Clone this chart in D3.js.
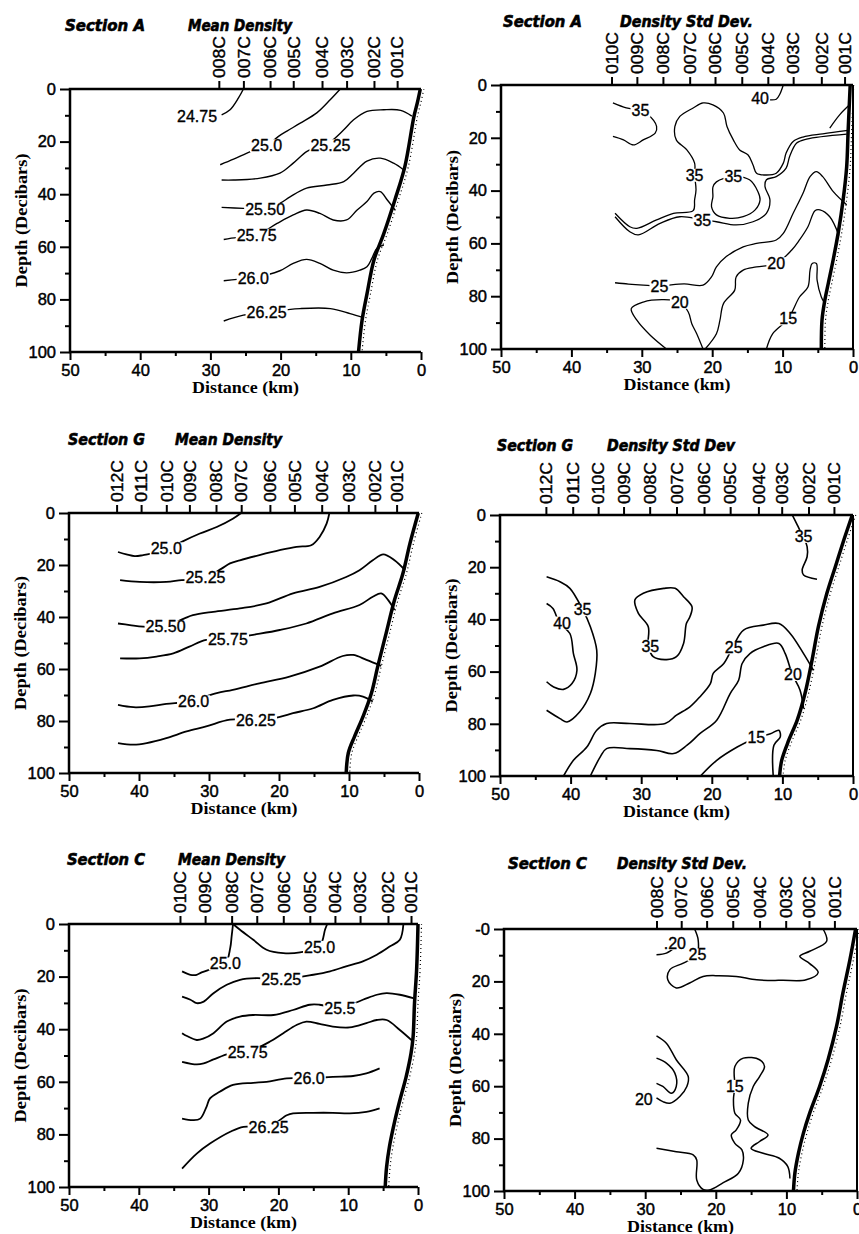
<!DOCTYPE html>
<html>
<head>
<meta charset="utf-8">
<script src="https://cdn.jsdelivr.net/npm/d3@7"></script>
<style>
  body { margin: 0; background: #fff; }
</style>
</head>
<body>
<svg id="fig" width="859" height="1234"></svg>
<script>
// ---- station names and positions (km offshore) ----
const stationsA1 = ["008C", "007C", "006C", "005C", "004C", "003C", "002C", "001C"];
const stationKmA1 = [28.8, 25.3, 21.5, 18.2, 14.1, 10.6, 6.7, 3.4];
const stationsA2 = ["010C", "009C", "008C", "007C", "006C", "005C", "004C", "003C", "002C", "001C"];
const stationKmA2 = [34.3, 30.7, 27.0, 23.2, 19.6, 15.8, 12.1, 8.5, 4.5, 1.2];
const stationsG = ["012C", "011C", "010C", "009C", "008C", "007C", "006C", "005C", "004C", "003C", "002C", "001C"];
const stationKmG1 = [43.2, 39.7, 36.1, 32.8, 29.0, 25.4, 21.3, 17.8, 13.9, 10.1, 6.3, 3.2];
const stationKmG2 = [43.5, 39.7, 36.1, 32.5, 28.8, 25.0, 21.1, 17.4, 13.4, 10.1, 6.3, 2.7];
const stationsC1 = ["010C", "009C", "008C", "007C", "006C", "005C", "004C", "003C", "002C", "001C"];
const stationKmC1 = [34.1, 30.5, 26.7, 23.1, 19.3, 15.5, 11.9, 8.3, 4.3, 1.0];
const stationsC2 = ["008C", "007C", "006C", "005C", "004C", "003C", "002C", "001C"];
const stationKmC2 = [28.4, 24.9, 21.3, 17.6, 13.8, 10.1, 6.8, 3.2];

// ---- axis ticks ----
const depthTicks = [0, 20, 40, 60, 80, 100];
const depthMinor = [10, 30, 50, 70, 90];
const depthLabels = ["0", "20", "40", "60", "80", "100"];
const depthLabelsC2 = ["-0", "20", "40", "60", "80", "100"];
const distTicks = [50, 40, 30, 20, 10, 0];
const distMinor = [45, 35, 25, 15, 5];

// ---- sea floor profiles [km, depth] ----
const bottomA1 = [[0.1, 0], [0.5, 5], [1.0, 10.4], [2.3, 29.5], [3.7, 42], [5.3, 55], [6.7, 65], [7.7, 78], [8.4, 88], [8.9, 100]];
const bottomA2 = [[0.4, 0], [0.7, 18], [0.9, 31], [1.4, 43.5], [2.1, 56], [2.8, 66], [3.5, 75], [4.0, 81.5], [4.4, 89], [4.5, 100]];
const bottomG1 = [[0.1, 0], [1.3, 11.8], [2.3, 23.3], [3.5, 33.5], [4.7, 46.3], [5.9, 59.1], [6.8, 69.3], [8, 78.3], [9.2, 85.9], [10.1, 92.3], [10.4, 100]];
const bottomG2 = [[0.1, 0], [1.3, 9.6], [2.5, 19.8], [3.7, 30], [4.9, 42.8], [5.8, 55.6], [6.8, 68.4], [7.9, 78.6], [9.1, 86.3], [10.1, 94], [10.4, 100]];
const bottomC1 = [[0, 0], [0.2, 17.4], [0.5, 30.1], [0.7, 42.8], [1, 49.2], [1.7, 58.1], [2.6, 67], [3.3, 74.6], [4.1, 84.8], [4.5, 92.4], [4.7, 100]];
const bottomC2 = [[0.2, 0], [1, 11.7], [2, 24.5], [2.9, 37.2], [4.1, 49.9], [5.3, 60.1], [6.7, 70.3], [7.6, 78], [8.3, 85.6], [8.8, 93.2], [9, 100]];

// ---- contours: label, label position and traced points [km, depth] ----
const contoursA1 = [
  {label: "24.75", at: [31.9, 10.4], pts: [[25.3, 0], [26.0, 3.4], [27.2, 7.9], [28.4, 9.8]]},
  {label: "25.0", at: [22.0, 21.5], pts: [[11.5, 0], [12.9, 4], [14.8, 9], [17.2, 13], [19.1, 16], [20.3, 18], [22, 21.5], [24.3, 23.8], [26.7, 26.7], [28.6, 28.8]]},
  {label: "25.25", at: [12.9, 21.5], pts: [[1.3, 10.3], [2.9, 8.1], [5.3, 7.9], [7.7, 8.5], [9.6, 11.7], [11.0, 15.5], [12.9, 20], [14.8, 22], [16.3, 23.8], [18.2, 28.2], [20.1, 32], [22.9, 33.9], [26.7, 34.6], [28.4, 34.6]]},
  {label: "25.50", at: [22.2, 45.7], pts: [[2.5, 30.7], [3.9, 28.2], [5.8, 26.3], [7.7, 27.4], [9.6, 32], [11.0, 35.2], [13.4, 36.5], [16.3, 37.7], [18.6, 40.9], [20.1, 43.5], [22.2, 45.7], [25.3, 45.4], [28.4, 45]]},
  {label: "25.75", at: [23.4, 55.5], pts: [[3.7, 46], [4.8, 42.2], [5.8, 39], [6.7, 39.6], [7.7, 42.8], [9.1, 46], [10.6, 49.8], [12.5, 49.8], [14.4, 47.3], [16.3, 46], [18.2, 47.9], [20.5, 51.1], [23.4, 55.5], [26.2, 56.4], [28.1, 57.2]]},
  {label: "26.0", at: [23.9, 71.8], pts: [[5.3, 59.3], [6.3, 60.6], [7.0, 64.4], [7.7, 67.6], [8.7, 68.9], [10.6, 69.9], [12.5, 68.9], [14.4, 66.3], [16.3, 64.8], [18.2, 66.3], [20.1, 69.1], [23.9, 71.8], [26.2, 72.4], [28.1, 72.9]]},
  {label: "26.25", at: [22.0, 84.8], pts: [[8.2, 86.9], [10.1, 85.4], [12.9, 83.5], [17.2, 83.5], [22, 84.8], [25.3, 86], [28.1, 88.2]]}
];

const contoursA2 = [
  {label: "40", at: [13.2, 4.9], pts: [[9.9, 0], [10.4, 3.5], [10.9, 5.4], [12, 5.6]]},
  {label: "35", at: [30.2, 9.7], pts: [[34.1, 6.8], [32.2, 8.7], [30.3, 9.7], [29.1, 11.3], [27.9, 15.7], [28.1, 18.2], [29.8, 20.8], [31.2, 22.7], [32.6, 20.8], [34.1, 19.5]]},
  {label: "35", at: [22.5, 34.1], pts: [[33.8, 48.6], [31.7, 53.7], [30.7, 54.3], [27.9, 51.1], [25.5, 48.6], [22.7, 47.6], [22.5, 43.5], [22.3, 39.7], [22.5, 34.1], [22.5, 29.6], [23.6, 24.6], [25.1, 20.8], [25.3, 15.7], [24.6, 11.9], [22.7, 8.7], [21.3, 6.8], [19.9, 7.5], [18.4, 10.6], [17.9, 15.7], [17.0, 20.8], [16.1, 24.6], [14.9, 26.5], [14.2, 30.3], [13.7, 33.4], [12.3, 34.1], [10.9, 33.4], [9.9, 29.6], [9.5, 25.8], [8.5, 21.4], [7.1, 19.7], [4.3, 18.5], [0.7, 17.2]]},
  {label: "", at: null, pts: [[3.3, 16.3], [1.9, 11.3], [0.6, 7.8]]},
  {label: "35", at: [21.4, 51.1], pts: [[33.8, 49.9], [31.7, 55.6], [30.5, 56.8], [27.4, 52.4], [24.6, 49.9], [21.4, 51.1], [19.4, 51.8], [16.6, 53], [14.2, 51.8], [12.3, 48.6], [11.8, 43.5], [12.5, 38.5], [12.3, 35.9], [10.9, 34.7], [9.5, 31.5], [9.0, 27.1], [8.0, 22], [6.6, 20.5], [0.9, 18.6]]},
  {label: "35", at: [17.0, 34.7], closed: true, pts: [[19.4, 36.7], [17.0, 34.7], [14.7, 35.9], [13.5, 40.4], [13.2, 43.5], [13.9, 47.3], [15.6, 49.9], [17.5, 50.5], [19.4, 49.2], [20.1, 46.1], [19.9, 42.3], [19.9, 38.7]]},
  {label: "25", at: [27.5, 76.1], pts: [[0.9, 45.4], [2.8, 40.4], [4.3, 34.7], [5.2, 32.8], [6.1, 34.7], [7.1, 41], [8.5, 48.6], [9.9, 56.2], [10.9, 58.7], [13.7, 60], [15.6, 61.3], [18, 65], [19.4, 68.9], [20.1, 72.7], [21.3, 75.8], [24, 75.3], [27.5, 76.1], [29.8, 75.8], [31.9, 75.4], [33.8, 74.9]]},
  {label: "20", at: [10.9, 67.6], pts: [[2.0, 57], [3.3, 49.9], [4.7, 47.3], [5.4, 47.6], [6.4, 53.7], [7.6, 58.7], [8.7, 62.5], [10.9, 67.6], [13.7, 68.9], [15.6, 70.1], [16.6, 72.7], [16.8, 77.7], [18.4, 82.8], [18.9, 89.1], [19.4, 94.2], [21, 100]]},
  {label: "20", at: [24.6, 82.2], pts: [[26.5, 100], [28.8, 94.8], [30.7, 89.1], [31.5, 84.7], [29.8, 82.2], [27, 81.3], [24.6, 82.2], [23.4, 86], [22.9, 90.4], [22.2, 94.2], [21.3, 100]]},
  {label: "15", at: [9.2, 88.5], pts: [[12.3, 100], [11.4, 94.2], [9.2, 88.5], [7.6, 80.3], [6.4, 76.5], [6.1, 70.1], [5.8, 67.6], [5.2, 67.6], [5.1, 73.9], [4.5, 80.3], [4.0, 82.8]]}
];

const contoursG1 = [
  {label: "25.0", at: [36.1, 13.7], pts: [[43, 15], [41.8, 15.9], [40.6, 16.6], [39.4, 16.2], [36.1, 14.3], [33.9, 11.1], [31.3, 7.9], [28.9, 5.4], [26.6, 2.2], [25.4, 0]]},
  {label: "25.25", at: [30.5, 24.8], pts: [[12.8, 0], [13.2, 4.1], [14.2, 9.2], [15.4, 12.4], [17.5, 13], [19.9, 14.3], [22.8, 16.2], [25.6, 18.2], [27, 19.4], [28.2, 21.4], [30.8, 25.2], [33.9, 25.8], [36.1, 26.5], [39.9, 26.5], [42.7, 25.8]]},
  {label: "25.50", at: [36.2, 43.7], pts: [[2.0, 22], [3.5, 18.2], [5.1, 15.9], [6.6, 18.2], [8.5, 22], [10.4, 24.6], [14.2, 28.4], [18, 30.9], [21.8, 34.8], [25.6, 36.7], [29.4, 38], [32.3, 39.3], [33.5, 40.5], [36.3, 43.7], [39.4, 43.7], [41.3, 43.1], [43, 42.5]]},
  {label: "25.75", at: [27.3, 48.6], pts: [[3.5, 37.3], [4.4, 33.5], [5.4, 30.9], [6.6, 32.2], [8.5, 35.4], [12.3, 38.6], [16.1, 42.5], [19.9, 45], [23.7, 46.9], [27.3, 48.6], [30.4, 48.8], [32.8, 51.4], [35.1, 54], [37.5, 55.2], [39.9, 55.9], [42.7, 55.9]]},
  {label: "26.0", at: [32.2, 72.5], pts: [[5.4, 58.8], [7.5, 56.5], [9.4, 54.6], [10.9, 55], [14.2, 59.1], [18.5, 62.9], [22.8, 65.5], [26.6, 68], [28.9, 69.3], [32.8, 72.5], [36.1, 73.4], [38.5, 74.4], [40.8, 74.7], [43, 73.8]]},
  {label: "26.25", at: [23.3, 79.8], pts: [[6.6, 72.5], [8, 70.6], [9.4, 70.2], [12.3, 71.9], [15.1, 75.1], [18, 77], [20, 78.5], [23.2, 79.8], [27, 79.5], [30.4, 82.1], [33.2, 84], [36.1, 86.6], [38.9, 88.5], [40.8, 89.1], [43, 88.5]]}
];

const contoursG2 = [
  {label: "35", at: [7.0, 8.1], pts: [[8.6, 0], [7.9, 3.8], [7.1, 8.1], [6.5, 12.1], [6.5, 16], [7.2, 21.1], [7, 23], [5.1, 24.6]]},
  {label: "35", at: [38.3, 36.2], pts: [[43.4, 23.7], [41.5, 25.6], [40.1, 28.1], [38.3, 36.2], [37.2, 42.8], [36.3, 51.8], [36.5, 60.7], [37.2, 68.4], [38.7, 75.4], [40.5, 79.3], [41.5, 78], [43.4, 74.8]]},
  {label: "40", at: [41.2, 41.3], pts: [[43.4, 33.9], [42.5, 35.8], [41.6, 41.3], [40.1, 45.4], [39.6, 53.1], [39.1, 59.5], [39.8, 64.6], [41, 66.8], [42.4, 65.9], [43.4, 63.9]]},
  {label: "35", at: [28.7, 50.2], closed: true, pts: [[30.9, 32.6], [29.7, 30], [26.8, 28.1], [25.2, 28.1], [24, 31.3], [22.8, 35.2], [23.1, 39], [23.6, 41.6], [24, 49.2], [25, 54.3], [26.4, 55.4], [28.3, 54.3], [29, 49.9], [29, 42.8], [30.4, 37.7]]},
  {label: "25", at: [16.9, 50.8], pts: [[5.6, 59.5], [7, 53.1], [8.9, 45.4], [10.5, 41.6], [12.7, 42.2], [15.5, 44.1], [17, 50.5], [18.3, 56.9], [19.8, 60.7], [20.2, 64.6], [21.7, 69.7], [23.1, 73.5], [25, 76.7], [26.6, 79.9], [31.6, 79.9], [34.9, 79.9], [36.3, 82.5], [37.7, 88.9], [39.6, 94], [41, 100]]},
  {label: "20", at: [8.5, 61], pts: [[7, 74.2], [7.5, 67.1], [8.6, 61], [9.6, 53.1], [10.5, 49.2], [12.7, 50.5], [14.6, 53.1], [15.7, 56.9], [16.2, 63.3], [17.4, 68.4], [19.3, 78.6], [21.7, 83.8], [23.5, 88.2], [25.4, 91.4], [27.8, 90.2], [31.6, 89.5], [34.9, 89.5], [35.8, 92.7], [37.2, 100]]},
  {label: "15", at: [13.7, 85.3], pts: [[21.6, 100], [19.3, 94], [16.4, 88.9], [13.7, 85.3], [11.7, 83.8], [10.5, 82.5], [10.3, 85], [11.2, 88.2], [11.3, 100]]}
];

const contoursC1 = [
  {label: "25.0", at: [27.6, 15.1], pts: [[33.8, 18], [32.6, 19.3], [31.7, 19.3], [31, 18.4], [29.5, 17], [27.6, 15.1], [26.9, 9.1], [26.7, 4.7], [26.5, 0]]},
  {label: "25.0", at: [14.1, 8.8], pts: [[26.5, 0], [25.5, 2.2], [23.6, 6], [21.7, 9.8], [19.3, 11.1], [16.9, 10.8], [14.1, 8.5], [13.3, 2], [13, 0]]},
  {label: "25.25", at: [19.6, 21], pts: [[2.1, 0.3], [2.6, 6], [4, 8.5], [5.9, 11.7], [7.9, 14.2], [10.3, 16.1], [12.6, 18], [15, 19.3], [19.5, 21], [23.1, 20.6], [25.5, 21.2], [27.4, 23.1], [29.3, 26.3], [30.7, 29.5], [31.7, 30.1], [32.6, 28.8], [33.8, 27.6]]},
  {label: "25.5", at: [11.2, 32.2], pts: [[0.7, 28.2], [2.6, 26.9], [4.5, 26.3], [5.9, 26.9], [7.9, 28.8], [11.2, 32], [14.1, 30.7], [15.5, 30.7], [17.9, 32.7], [20.7, 34.6], [23.6, 34.6], [25.5, 35.2], [27.4, 37.1], [29.3, 41.5], [30.7, 43.5], [31.7, 44.1], [33.1, 42.6], [33.8, 41.5]]},
  {label: "25.75", at: [24.4, 48.8], pts: [[0.7, 44.7], [2.6, 40.3], [4.5, 36.5], [5.9, 36.5], [7.4, 37.7], [9.8, 39.3], [12.2, 39], [14.1, 38], [16, 37.1], [17.4, 38.4], [19.3, 41.5], [21.2, 44.7], [24.3, 48.5], [26.9, 49.2], [29.3, 51.5], [30.7, 53], [31.7, 53.4], [33.8, 52.4]]},
  {label: "26.0", at: [15.6, 58.7], pts: [[5.5, 54.9], [7.4, 56.8], [9.3, 57.8], [12.2, 58.1], [15.6, 58.7], [18.8, 58.7], [21.7, 60], [23.6, 60.4], [26.5, 61.2], [28.4, 63.8], [29.8, 66.3], [30.3, 69.5], [31.2, 74], [32.2, 74.6], [33.8, 74]]},
  {label: "26.25", at: [21.4, 77.4], pts: [[5.5, 70.1], [7.4, 71.4], [9.8, 72], [12.2, 71.8], [15, 71.8], [17.9, 72], [18.8, 72.7], [21.4, 77.1], [25, 77.1], [26.9, 79], [29.8, 83.5], [31.7, 87.3], [33.8, 93]]}
];

const contoursC2 = [
  {label: ".20", at: [25.8, 5.4], pts: [[28.4, 9.8], [27, 9.2], [25.8, 7]]},
  {label: "25", at: [22.6, 9.8], pts: [[23, 0], [22.5, 4.1], [22.7, 9.8], [24.6, 13], [26.5, 15.5], [26.8, 19.4], [25.6, 22.5], [23.7, 20.6], [21.8, 18.1], [19.9, 17.8], [17.1, 18.1], [14.2, 19.4], [10.5, 19.6], [7.2, 19.4], [5.5, 16.6], [6.7, 13.2], [8.1, 10.4], [6.7, 8.5], [4.3, 4.7], [4.8, 0]]},
  {label: "20", at: [30.2, 65], pts: [[28.4, 40.8], [27, 43.6], [25.6, 49.9], [23.9, 56.3], [24.1, 60.1], [25.1, 63.9], [26.5, 66.5], [27.5, 65.9], [28.4, 64.5]]},
  {label: "", at: null, pts: [[28.4, 49.3], [27, 51.2], [25.8, 55], [25.6, 60.1], [26.3, 62.7], [27.5, 60.1], [28.4, 58.9]]},
  {label: "15", at: [17.3, 60], pts: [[28.4, 83.7], [25.6, 85], [23.2, 86.2], [22.7, 88.2], [22.7, 95.8], [21.8, 99.4], [20.9, 99.6], [19, 96.9], [16.8, 93.2], [16.1, 88.2], [16.3, 84.3], [17.3, 81.8], [17.8, 78.6], [17.1, 76.7], [16.5, 72.9], [17.3, 70.3], [17.5, 65.2], [17.3, 60.1], [17.3, 52.5], [16.1, 49.3], [13.8, 49.9], [13.1, 52.5], [13.8, 56.3], [14.7, 60.1], [15.4, 66.5], [15.4, 72.9], [14.5, 75.4], [12.6, 78.6], [13.8, 81.1], [15, 83.7], [13.3, 85.6], [11, 87.5], [9.8, 90.7], [9.5, 95.2]]}
];

// ---- layout of the six panels ----
const panels = [
  {x0: 70, x1: 421, y0: 89, y1: 352, lw: 1.4, rightEdge: false,
   section: "Section A", sx: 65, sw: 80, title: "Mean Density", tx: 188, tw: 104, ty: 31,
   stations: stationsA1, stationKm: stationKmA1, bottom: bottomA1, contours: contoursA1, yLabels: depthLabels},
  {x0: 501, x1: 853, y0: 85, y1: 349, lw: 1.3, rightEdge: true,
   section: "Section A", sx: 503, sw: 79, title: "Density Std Dev.", tx: 620, tw: 133, ty: 27,
   stations: stationsA2, stationKm: stationKmA2, bottom: bottomA2, contours: contoursA2, yLabels: depthLabels},
  {x0: 69, x1: 419, y0: 513, y1: 773, lw: 1.8, rightEdge: false,
   section: "Section G", sx: 68, sw: 77, title: "Mean Density", tx: 175, tw: 107, ty: 445,
   stations: stationsG, stationKm: stationKmG1, bottom: bottomG1, contours: contoursG1, yLabels: depthLabels},
  {x0: 500, x1: 853, y0: 515, y1: 776, lw: 1.6, rightEdge: true,
   section: "Section G", sx: 497, sw: 76, title: "Density Std Dev", tx: 607, tw: 128, ty: 451,
   stations: stationsG, stationKm: stationKmG2, bottom: bottomG2, contours: contoursG2, yLabels: depthLabels},
  {x0: 69, x1: 418, y0: 924, y1: 1187, lw: 1.8, rightEdge: false,
   section: "Section C", sx: 67, sw: 78, title: "Mean Density", tx: 178, tw: 107, ty: 865,
   stations: stationsC1, stationKm: stationKmC1, bottom: bottomC1, contours: contoursC1, yLabels: depthLabels},
  {x0: 504, x1: 857, y0: 929, y1: 1191, lw: 1.5, rightEdge: true,
   section: "Section C", sx: 508, sw: 79, title: "Density Std Dev.", tx: 617, tw: 130, ty: 869,
   stations: stationsC2, stationKm: stationKmC2, bottom: bottomC2, contours: contoursC2, yLabels: depthLabelsC2}
];

const sans = "'Liberation Sans', Arial, Helvetica, sans-serif";
const heavy = "'DejaVu Sans', 'Liberation Sans', sans-serif";
const serif = "'Liberation Serif', 'Times New Roman', serif";
const svg = d3.select("#fig");

panels.forEach(drawPanel);

function drawPanel(p) {
  const x = d3.scaleLinear().domain([50, 0]).range([p.x0, p.x1]);
  const y = d3.scaleLinear().domain([0, 100]).range([p.y0, p.y1]);
  const line = d3.line().x(d => x(d[0])).y(d => y(d[1])).curve(d3.curveCatmullRom.alpha(0.5));
  const loop = d3.line().x(d => x(d[0])).y(d => y(d[1])).curve(d3.curveCatmullRomClosed.alpha(0.5));

  const g = svg.append("g");

  // contour lines
  g.append("g").selectAll("path")
    .data(p.contours)
    .join("path")
    .attr("d", c => (c.closed ? loop : line)(c.pts))
    .attr("fill", "none")
    .attr("stroke", "#000")
    .attr("stroke-width", p.lw)
    .attr("stroke-linejoin", "round");

  // contour labels sit on a white patch that breaks the line
  const labs = g.append("g").selectAll("g")
    .data(p.contours.filter(c => c.label))
    .join("g");
  labs.append("text")
    .attr("x", c => x(c.at[0]))
    .attr("y", c => y(c.at[1]))
    .attr("dy", "0.36em")
    .attr("text-anchor", "middle")
    .attr("font-family", sans)
    .attr("font-size", 16)
    .attr("stroke", "#000").attr("stroke-width", 0.35)
    .text(c => c.label);
  labs.each(function () {
    const b = d3.select(this).select("text").node().getBBox();
    d3.select(this).insert("rect", "text")
      .attr("x", b.x - 1).attr("y", b.y + 2)
      .attr("width", b.width + 2).attr("height", b.height - 4)
      .attr("fill", "#fff");
  });

  // sea floor: heavy line with a stipple on the shore side
  g.append("path").datum(p.bottom)
    .attr("d", line)
    .attr("fill", "none").attr("stroke", "#000")
    .attr("stroke-width", 3.5);
  g.append("path").datum(p.bottom)
    .attr("transform", "translate(3.5,0)")
    .attr("d", line)
    .attr("fill", "none").attr("stroke", "#000")
    .attr("stroke-width", 1.2)
    .attr("stroke-dasharray", "1 3");

  // frame
  const frame = [[p.x1, p.y0], [p.x0, p.y0], [p.x0, p.y1], [p.x1, p.y1]];
  g.append("path")
    .attr("d", d3.line()(frame))
    .attr("fill", "none").attr("stroke", "#000")
    .attr("stroke-width", 2.5);
  if (p.rightEdge) {
    g.append("line")
      .attr("x1", p.x1).attr("x2", p.x1)
      .attr("y1", p.y0).attr("y2", p.y1)
      .attr("stroke", "#000").attr("stroke-width", 2);
  }

  // depth axis
  g.append("g")
    .attr("transform", `translate(${p.x0},0)`)
    .call(d3.axisLeft(y).tickValues(depthTicks).tickSize(10).tickPadding(4)
      .tickFormat((d, i) => p.yLabels[i]))
    .call(a => a.select(".domain").remove());
  g.append("g")
    .attr("transform", `translate(${p.x0},0)`)
    .call(d3.axisLeft(y).tickValues(depthMinor).tickSize(5).tickFormat(""))
    .call(a => a.select(".domain").remove());

  // distance axis
  g.append("g")
    .attr("transform", `translate(0,${p.y1})`)
    .call(d3.axisBottom(x).tickValues(distTicks).tickSize(8).tickPadding(4))
    .call(a => a.select(".domain").remove());
  g.append("g")
    .attr("transform", `translate(0,${p.y1})`)
    .call(d3.axisBottom(x).tickValues(distMinor).tickSize(4).tickFormat(""))
    .call(a => a.select(".domain").remove());

  g.selectAll(".tick line").attr("stroke-width", 2);
  g.selectAll(".tick text")
    .attr("font-family", sans)
    .attr("font-size", 16.5)
    .attr("fill", "#000")
    .attr("stroke", "#000").attr("stroke-width", 0.45);

  // station axis along the top
  g.append("g")
    .attr("transform", `translate(0,${p.y0})`)
    .call(d3.axisTop(x).tickValues(p.stationKm).tickSize(8)
      .tickFormat((d, i) => p.stations[i]))
    .call(a => a.select(".domain").remove())
    .call(a => a.selectAll(".tick line").attr("stroke-width", 2))
    .call(a => a.selectAll("text")
      .attr("transform", "rotate(-90)")
      .attr("x", 11).attr("y", 0).attr("dy", "0.36em")
      .attr("text-anchor", "start")
      .attr("font-family", sans)
      .attr("font-size", 16)
      .attr("fill", "#000")
      .attr("stroke", "#000").attr("stroke-width", 0.4)
      .attr("textLength", 42).attr("lengthAdjust", "spacingAndGlyphs"));

  // axis titles
  g.append("text")
    .attr("transform", `translate(${p.x0 - 49},${(p.y0 + p.y1) / 2}) rotate(-90)`)
    .attr("dy", "0.35em")
    .attr("text-anchor", "middle")
    .attr("font-family", serif).attr("font-weight", "bold").attr("font-size", 17)
    .attr("textLength", 134).attr("lengthAdjust", "spacingAndGlyphs")
    .text("Depth (Decibars)");
  g.append("text")
    .attr("x", (p.x0 + p.x1) / 2).attr("y", p.y1 + 41)
    .attr("text-anchor", "middle")
    .attr("font-family", serif).attr("font-weight", "bold").attr("font-size", 16)
    .attr("textLength", 107).attr("lengthAdjust", "spacingAndGlyphs")
    .text("Distance (km)");

  // panel titles
  [[p.section, p.sx, p.sw], [p.title, p.tx, p.tw]].forEach(([t, tx, tw]) => {
    g.append("text")
      .attr("x", tx).attr("y", p.ty)
      .attr("font-family", heavy).attr("font-weight", "bold").attr("font-style", "italic")
      .attr("font-size", 15)
      .attr("stroke", "#000").attr("stroke-width", 0.6)
      .attr("textLength", tw).attr("lengthAdjust", "spacingAndGlyphs")
      .text(t);
  });
}
</script>
</body>
</html>
